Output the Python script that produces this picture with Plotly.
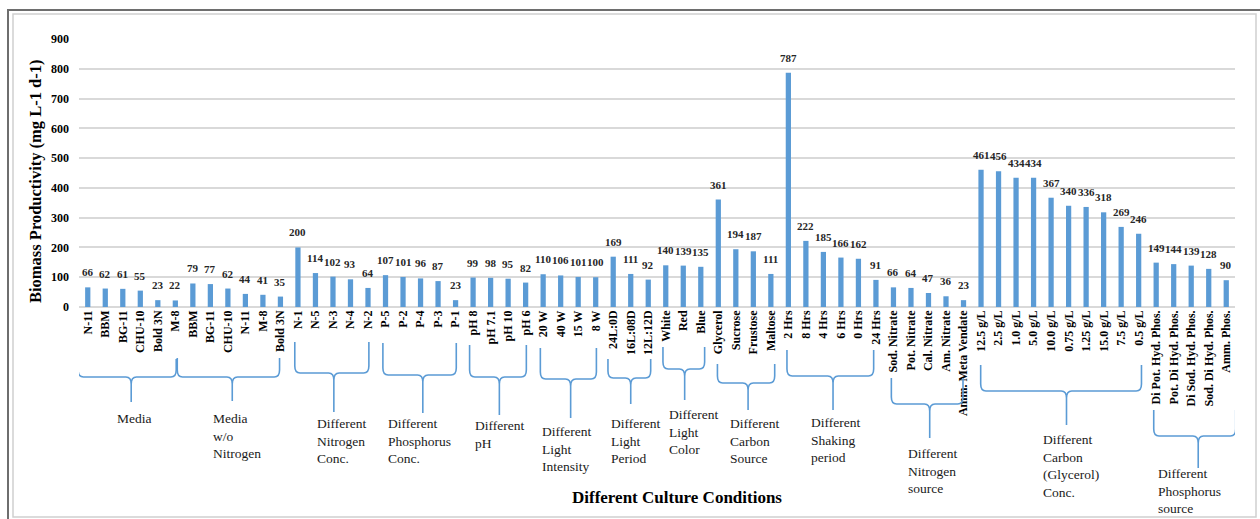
import plotly.graph_objects as go

# ---- data -------------------------------------------------------------
group_names = [
    "Media",
    "Media<br>w/o<br>Nitrogen",
    "Different<br>Nitrogen<br>Conc.",
    "Different<br>Phosphorus<br>Conc.",
    "Different<br>pH",
    "Different<br>Light<br>Intensity",
    "Different<br>Light<br>Period",
    "Different<br>Light<br>Color",
    "Different<br>Carbon<br>Source",
    "Different<br>Shaking<br>period",
    "Different<br>Nitrogen<br>source",
    "Different<br>Carbon<br>(Glycerol)<br>Conc.",
    "Different<br>Phosphorus<br>source",
]

media = ["N-11", "BBM", "BG-11", "CHU-10", "Bold 3N", "M-8"]
media_vals = [66, 62, 61, 55, 23, 22]

media_no_n = ["BBM", "BG-11", "CHU-10", "N-11", "M-8", "Bold 3N"]
media_no_n_vals = [79, 77, 62, 44, 41, 35]

nitrogen_conc = ["N-1", "N-5", "N-3", "N-4", "N-2"]
nitrogen_conc_vals = [200, 114, 102, 93, 64]

phosphorus_conc = ["P-5", "P-2", "P-4", "P-3", "P-1"]
phosphorus_conc_vals = [107, 101, 96, 87, 23]

ph = ["pH 8", "pH 7.1", "pH 10", "pH 6"]
ph_vals = [99, 98, 95, 82]

light_intensity = ["20 W", "40 W", "15 W", "8 W"]
light_intensity_vals = [110, 106, 101, 100]

light_period = ["24L:0D", "16L:08D", "12L:12D"]
light_period_vals = [169, 111, 92]

light_color = ["White", "Red", "Blue"]
light_color_vals = [140, 139, 135]

carbon_source = ["Glycerol", "Sucrose", "Frustose", "Maltose"]
carbon_source_vals = [361, 194, 187, 111]

shaking = ["2 Hrs", "8 Hrs", "4 Hrs", "6 Hrs", "0 Hrs", "24 Hrs"]
shaking_vals = [787, 222, 185, 166, 162, 91]

nitrogen_source = ["Sod. Nitrate", "Pot. Nitrate", "Cal. Nitrate", "Am. Nitrate",
                   "Amm. Meta Vendate"]
nitrogen_source_vals = [66, 64, 47, 36, 23]

glycerol_conc = ["12.5 g/L", "2.5 g/L", "1.0 g/L", "5.0 g/L", "10.0 g/L",
                 "0.75 g/L", "1.25 g/L", "15.0 g/L", "7.5 g/L", "0.5 g/L"]
glycerol_conc_vals = [461, 456, 434, 434, 367, 340, 336, 318, 269, 246]

phosphorus_source = ["Di Pot. Hyd. Phos.", "Pot. Di Hyd. Phos.", "Di Sod. Hyd. Phos.",
                     "Sod. Di Hyd. Phos.", "Amm. Phos."]
phosphorus_source_vals = [149, 144, 139, 128, 90]

label_groups = [media, media_no_n, nitrogen_conc, phosphorus_conc, ph, light_intensity,
                light_period, light_color, carbon_source, shaking, nitrogen_source,
                glycerol_conc, phosphorus_source]
value_groups = [media_vals, media_no_n_vals, nitrogen_conc_vals, phosphorus_conc_vals,
                ph_vals, light_intensity_vals, light_period_vals, light_color_vals,
                carbon_source_vals, shaking_vals, nitrogen_source_vals,
                glycerol_conc_vals, phosphorus_source_vals]

conditions = [lab for g in label_groups for lab in g]
productivity = [v for g in value_groups for v in g]
n = len(conditions)
positions = list(range(n))

# ---- layout geometry (pixels) ----------------------------------------
W, H = 1260, 519
ML, MR, MT, MB = 79, 25, 39, 212
PW = W - ML - MR
PH = H - MT - MB
AXIS_Y = H - MB

BLUE = "#5b9bd5"
SERIF = "Liberation Serif, DejaVu Serif, serif"


def fx(px):
    return (px - ML) / PW


def fy(py):
    return (AXIS_Y - py) / PH


# brace layout per group: left x, right x, tip x (axis units), top / middle / tip y (px)
brace_layout = [
    (-0.55, 5.05, 2.48, 359, 377, 402),
    (5.11, 10.95, 8.25, 358, 377, 401),
    (11.82, 16.05, 14.05, 342, 373, 412),
    (16.85, 21.04, 19.13, 343, 375, 413),
    (21.80, 25.04, 23.50, 345, 377, 415),
    (25.84, 29.04, 27.57, 348, 379, 418),
    (29.70, 32.14, 31.00, 359, 378, 404),
    (32.84, 35.22, 34.08, 347, 369, 400),
    (35.95, 39.22, 37.70, 364, 383, 410),
    (39.92, 44.87, 42.55, 350, 376, 410),
    (45.88, 49.97, 48.07, 378, 404, 438),
    (50.98, 60.16, 55.88, 365, 391, 425),
    (60.86, 65.54, 63.40, 410, 436, 468),
]

# group caption top-left corner (px)
caption_layout = [
    (115, 412), (211, 412), (315, 417), (386, 417), (473, 419), (540, 425),
    (609, 417), (667, 408), (728, 417), (809, 416), (906, 447), (1041, 433),
    (1156, 467),
]


def brace_path(xl, xr, xc, ytop, ymid, ytip):
    rx = 0.3          # corner size along x (axis units)
    ry = 7.0          # corner size along y (px)
    t, m, b = fy(ytop), fy(ymid), fy(ytip)
    mr = fy(ymid - ry)
    ms = fy(ymid + ry)
    return (
        f"M {xl} {t} L {xl} {mr} Q {xl} {m} {xl + rx} {m} "
        f"L {xc - rx} {m} Q {xc} {m} {xc} {ms} L {xc} {b} "
        f"M {xr} {t} L {xr} {mr} Q {xr} {m} {xr - rx} {m} "
        f"L {xc + rx} {m} Q {xc} {m} {xc} {ms}"
    )


fig = go.Figure()
fig.add_trace(go.Bar(
    x=positions,
    y=productivity,
    width=0.3,
    marker=dict(color=BLUE, line=dict(width=0)),
    hoverinfo="x+y",
))

shapes = []
for (xl, xr, xc, yt, ym, yb) in brace_layout:
    shapes.append(dict(
        type="path", xref="x", yref="paper",
        path=brace_path(xl, xr, xc, yt, ym, yb),
        line=dict(color=BLUE, width=1.6),
    ))

# outer frame
shapes.append(dict(type="rect", xref="paper", yref="paper",
                   x0=fx(13), x1=fx(1256), y0=fy(517), y1=fy(14),
                   line=dict(color="#d0d0d0", width=1.5), layer="below"))
shapes.append(dict(type="line", xref="paper", yref="paper",
                   x0=fx(7), x1=fx(1262), y0=fy(10), y1=fy(10),
                   line=dict(color="#6e6e6e", width=2)))
shapes.append(dict(type="line", xref="paper", yref="paper",
                   x0=fx(8), x1=fx(8), y0=fy(10), y1=fy(521),
                   line=dict(color="#6e6e6e", width=2)))

annotations = []
# value labels above each bar
for xi, v in zip(positions, productivity):
    annotations.append(dict(
        x=xi, y=v, xref="x", yref="y", text=str(v), showarrow=False,
        yanchor="bottom", yshift=7,
        font=dict(family=SERIF, size=11, color="#262626", weight="bold"),
    ))

# group captions
for name, (cx, cy) in zip(group_names, caption_layout):
    annotations.append(dict(
        x=fx(cx), y=fy(cy - 3), xref="paper", yref="paper", text=name,
        showarrow=False, xanchor="left", yanchor="top", align="left",
        font=dict(family=SERIF, size=13.5, color="#1a1a1a"),
    ))

# axis titles
annotations.append(dict(
    x=fx(677), y=fy(497), xref="paper", yref="paper",
    text="Different Culture Conditions", showarrow=False,
    xanchor="center", yanchor="middle",
    font=dict(family=SERIF, size=17, color="#000000", weight="bold"),
))
annotations.append(dict(
    x=fx(35), y=fy(181), xref="paper", yref="paper",
    text="Biomass Productivity (mg L-1 d-1)", showarrow=False, textangle=-90,
    xanchor="center", yanchor="middle",
    font=dict(family=SERIF, size=16.5, color="#000000", weight="bold"),
))

fig.update_layout(
    width=W, height=H,
    margin=dict(l=ML, r=MR, t=MT, b=MB, pad=0),
    paper_bgcolor="white", plot_bgcolor="white",
    showlegend=False,
    bargap=0.7,
    shapes=shapes,
    annotations=annotations,
    xaxis=dict(
        range=[-0.5, n - 0.5],
        tickmode="array", tickvals=positions, ticktext=conditions,
        tickangle=-90, showgrid=False, zeroline=False, showline=False,
        ticks="", ticklen=0,
        tickfont=dict(family=SERIF, size=12, color="#000000", weight="bold"),
    ),
    yaxis=dict(
        range=[0, 900], dtick=100, tick0=0,
        showgrid=True, gridcolor="#d9d9d9", gridwidth=1.5,
        zeroline=True, zerolinecolor="#d9d9d9", zerolinewidth=1.5,
        showline=False, ticks="", ticklabelstandoff=9,
        tickfont=dict(family=SERIF, size=12, color="#000000", weight="bold"),
    ),
)

fig.write_html("out.html")
